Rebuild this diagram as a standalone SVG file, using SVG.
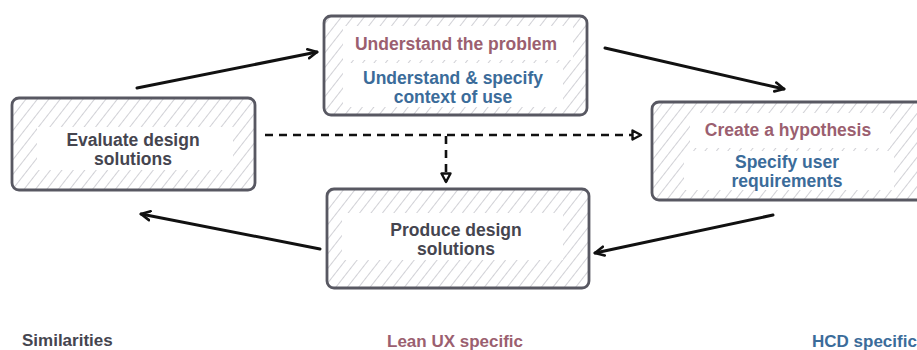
<svg xmlns="http://www.w3.org/2000/svg" width="917" height="350" viewBox="0 0 917 350">
<defs>
<pattern id="hatch" patternUnits="userSpaceOnUse" width="9" height="9" patternTransform="rotate(38)">
<line x1="0" y1="0" x2="0" y2="9" stroke="#c2c2c9" stroke-width="1.5"/>
</pattern>
<marker id="ah" viewBox="0 0 12 12" refX="10" refY="6" markerWidth="12" markerHeight="12" markerUnits="userSpaceOnUse" orient="auto">
<path d="M1,1.5 L10,6 L1,10.5" fill="none" stroke="#111" stroke-width="2.6" stroke-linejoin="round" stroke-linecap="round"/>
</marker>
<marker id="ahd" viewBox="0 0 12 12" refX="10" refY="6" markerWidth="12" markerHeight="12" markerUnits="userSpaceOnUse" orient="auto">
<path d="M1.5,1.5 L10,6 L1.5,10.5 Z" fill="#fff" stroke="#111" stroke-width="2.4" stroke-linejoin="round"/>
</marker>
</defs>
<style>
.box{fill:url(#hatch);stroke:#585862;stroke-width:2.8}
.panel{fill:#fff}
.t{font-family:"Liberation Sans",Arial,sans-serif;font-weight:bold;font-size:17.5px;text-anchor:middle}
.dark{fill:#45454f}
.red{fill:#9b5f70}
.blue{fill:#3b6c9a}
.lbl{font-family:"Liberation Sans",Arial,sans-serif;font-weight:bold;font-size:17px}
.ar{fill:none;stroke:#111;stroke-width:3;stroke-linecap:round;marker-end:url(#ah)}
.ad{fill:none;stroke:#111;stroke-width:2.6;stroke-dasharray:8 6;marker-end:url(#ahd)}
</style>
<rect width="917" height="350" fill="#fff"/>

<g id="connectors">
<path class="ar" d="M137,88 L317,52"/>
<path class="ar" d="M605,48 L784,89"/>
<path class="ar" d="M773,215 L595,253"/>
<path class="ar" d="M320,249 L141,214"/>
<path class="ad" d="M265,135 L641,135"/>
<path class="ad" d="M446,136 L446,182"/>
</g>

<g id="understand">
<rect class="box" x="324" y="16" width="263" height="99" rx="7"/>
<rect class="panel" x="343" y="26" width="230" height="34"/>
<rect class="panel" x="343" y="63" width="220" height="44"/>
<text class="t red" x="456" y="50">Understand the problem</text>
<text class="t blue" x="453" y="84">Understand &amp; specify</text>
<text class="t blue" x="453" y="103">context of use</text>
</g>

<g id="hypothesis">
<rect class="box" x="652" y="102" width="280" height="98" rx="7"/>
<rect class="panel" x="690" y="113" width="200" height="35"/>
<rect class="panel" x="684" y="151" width="210" height="39"/>
<text class="t red" x="788" y="136">Create a hypothesis</text>
<text class="t blue" x="787" y="168">Specify user</text>
<text class="t blue" x="787" y="187">requirements</text>
</g>

<g id="evaluate">
<rect class="box" x="12" y="98" width="243" height="92" rx="7"/>
<rect class="panel" x="37" y="127" width="196" height="43"/>
<text class="t dark" x="133" y="146">Evaluate design</text>
<text class="t dark" x="133" y="165">solutions</text>
</g>

<g id="produce">
<rect class="box" x="327" y="189" width="262" height="99" rx="7"/>
<rect class="panel" x="342" y="213" width="221" height="47"/>
<text class="t dark" x="456" y="236">Produce design</text>
<text class="t dark" x="456" y="255">solutions</text>
</g>

<g id="legend">
<text class="lbl dark" x="22" y="346">Similarities</text>
<text class="lbl red" x="387" y="347">Lean UX specific</text>
<text class="lbl blue" x="812" y="347">HCD specific</text>
</g>
</svg>
